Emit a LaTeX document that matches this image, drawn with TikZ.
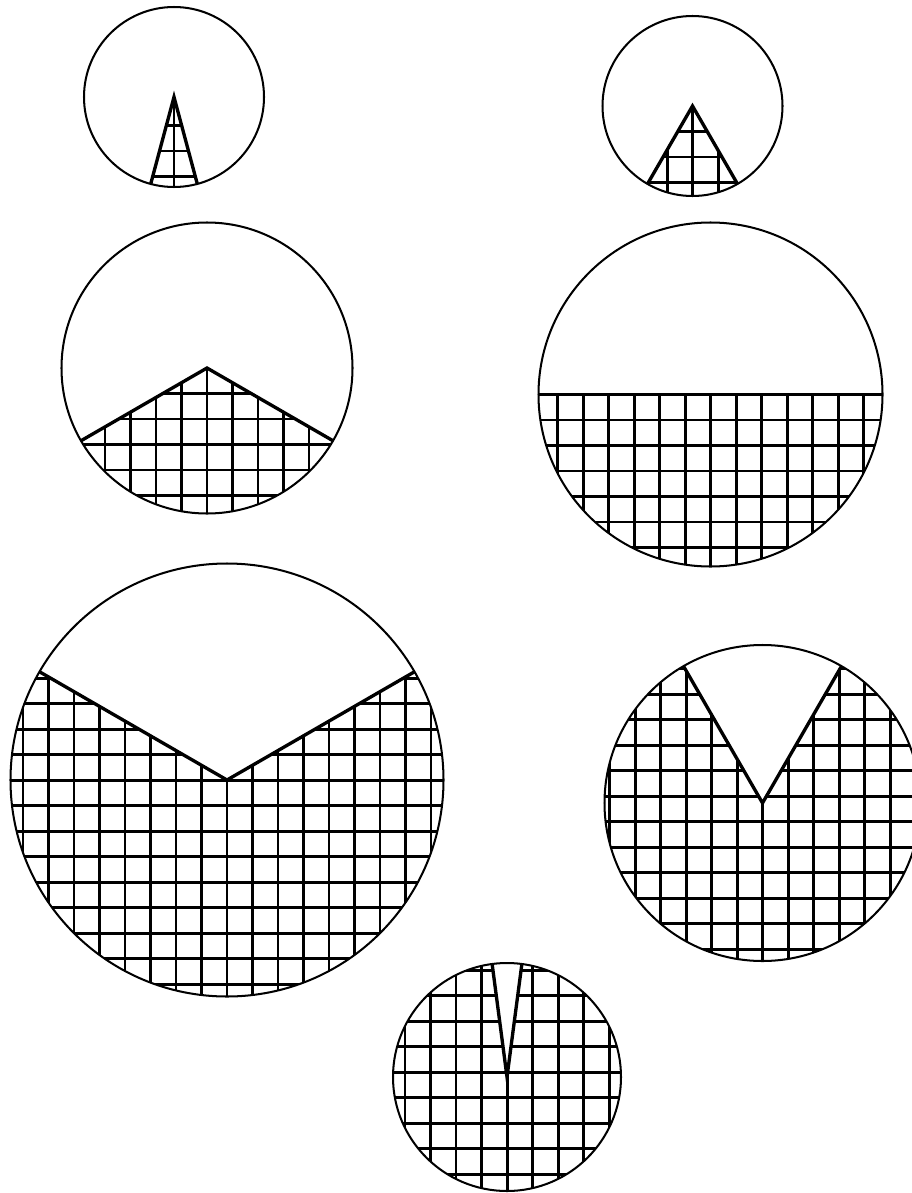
\documentclass[tikz,border=0pt]{standalone}
\begin{document}
\tikzset{
  circ/.style={line width=1.15pt},
  gline/.style={line width=1.7pt},
  edgeln/.style={line width=1.9pt, line join=miter},
}
\newcommand\fdisk[7]{% cx, cy, r, a1, a2, ox, oy
\begin{scope}[shift={(#1,#2)}]
  \pgfmathsetmacro\fdR{2.2*#3}
  \pgfmathsetmacro\fdS{(#5-#4)/6}
  \begin{scope}
    \clip (0,0) circle[radius=#3];
    \clip (0,0) -- (#4:\fdR) -- ({#4+\fdS}:\fdR) -- ({#4+2*\fdS}:\fdR)
      -- ({#4+3*\fdS}:\fdR) -- ({#4+4*\fdS}:\fdR) -- ({#4+5*\fdS}:\fdR)
      -- (#5:\fdR) -- cycle;
    \foreach \k in {-10,...,10} {
      \draw[gline] ({#6+\k*25.5},{-#3}) -- ({#6+\k*25.5},{#3});
      \draw[gline] ({-#3},{#7+\k*25.5}) -- ({#3},{#7+\k*25.5});
    }
  \end{scope}
  \draw[circ] (0,0) circle[radius=#3];
  \draw[edgeln] (#4:#3) -- (0,0) -- (#5:#3);
\end{scope}}
\begin{tikzpicture}[x=0.02cm, y=-0.02cm]
  \useasboundingbox (0,0) rectangle (912,1193);
  \fdisk{174}{97}{90}{75}{105}{0}{3}
  \fdisk{692.5}{106}{90}{60}{120}{0}{0}
  \fdisk{207}{368}{145.5}{30}{150}{0}{0}
  \fdisk{710.5}{394.5}{172}{0}{180}{0}{0}
  \fdisk{227}{780}{216.5}{-30}{210}{0}{0}
  \fdisk{762.5}{803}{158}{-60}{240}{0}{-7}
  \fdisk{507}{1077}{114}{-82.5}{262.5}{0}{-5}
\end{tikzpicture}
\end{document}
